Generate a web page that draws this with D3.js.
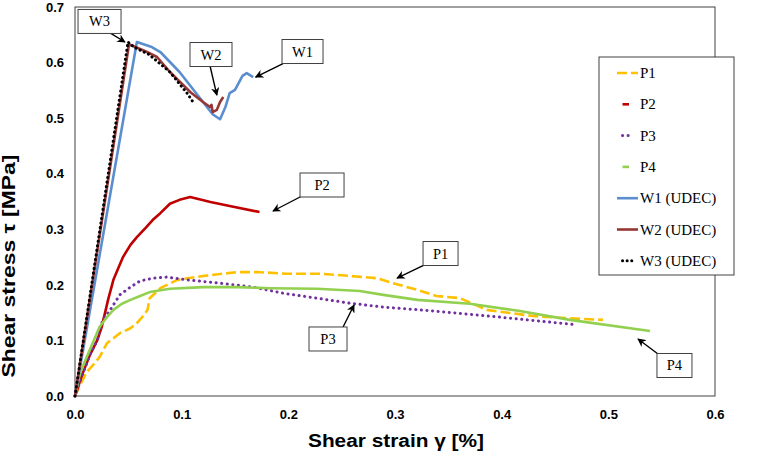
<!DOCTYPE html>
<html>
<head>
<meta charset="utf-8">
<script src="https://cdn.jsdelivr.net/npm/d3@7"></script>
<style>
  html, body { margin: 0; padding: 0; background: #fff; }
  svg { display: block; }
</style>
</head>
<body>
<svg id="chart" width="773" height="460"></svg>
<script>
// ---------- DATA ----------
const xTicks = [0.0, 0.1, 0.2, 0.3, 0.4, 0.5, 0.6];
const yTicks = [0.0, 0.1, 0.2, 0.3, 0.4, 0.5, 0.6, 0.7];
const seriesNames = ["P1", "P2", "P3", "P4", "W1 (UDEC)", "W2 (UDEC)", "W3 (UDEC)"];

// [shear strain %, shear stress MPa]
const P1 = [[0,0],[0.0047,0.020],[0.011,0.043],[0.017,0.056],[0.023,0.070],[0.030,0.095],
  [0.036,0.104],[0.042,0.113],[0.052,0.122],[0.058,0.131],[0.064,0.144],[0.068,0.155],
  [0.070,0.176],[0.080,0.194],[0.096,0.209],[0.120,0.216],[0.152,0.223],[0.171,0.223],
  [0.199,0.220],[0.230,0.220],[0.258,0.216],[0.283,0.212],[0.298,0.203],[0.321,0.191],
  [0.339,0.180],[0.361,0.176],[0.373,0.166],[0.386,0.155],[0.429,0.144],[0.461,0.140],
  [0.495,0.137]];
const P2 = [[0,0],[0.0066,0.038],[0.014,0.074],[0.021,0.101],[0.025,0.124],[0.031,0.173],
  [0.036,0.209],[0.045,0.250],[0.052,0.272],[0.058,0.286],[0.066,0.302],[0.073,0.317],
  [0.080,0.329],[0.089,0.346],[0.098,0.353],[0.108,0.358],[0.127,0.349],[0.145,0.342],
  [0.173,0.331]];
const P3 = [[0,0],[0.0075,0.041],[0.014,0.074],[0.021,0.101],[0.026,0.137],[0.033,0.155],
  [0.042,0.182],[0.052,0.196],[0.061,0.207],[0.073,0.212],[0.086,0.214],[0.105,0.209],
  [0.136,0.203],[0.167,0.196],[0.195,0.185],[0.227,0.176],[0.258,0.167],[0.289,0.160],
  [0.336,0.153],[0.398,0.142],[0.471,0.128]];
const P4 = [[0,0],[0.0047,0.041],[0.011,0.070],[0.017,0.097],[0.023,0.124],[0.030,0.142],
  [0.036,0.155],[0.044,0.166],[0.052,0.173],[0.061,0.180],[0.070,0.187],[0.089,0.193],
  [0.120,0.196],[0.152,0.196],[0.183,0.194],[0.227,0.193],[0.267,0.189],[0.289,0.182],
  [0.321,0.173],[0.370,0.166],[0.417,0.153],[0.464,0.137],[0.539,0.117]];
const W1 = [[0,0],[0.058,0.637],[0.072,0.628],[0.080,0.619],[0.098,0.583],[0.129,0.507],
  [0.136,0.498],[0.141,0.520],[0.145,0.545],[0.150,0.551],[0.157,0.576],[0.161,0.581],
  [0.167,0.574]];
const W2 = [[0,0],[0.0506,0.633],[0.0675,0.619],[0.0769,0.610],[0.089,0.583],[0.108,0.547],
  [0.120,0.529],[0.1266,0.520],[0.128,0.524],[0.129,0.511],[0.133,0.515],[0.136,0.529],
  [0.139,0.538]];
const W3 = [[0,0],[0.0497,0.637],[0.055,0.628],[0.069,0.615],[0.089,0.583],[0.105,0.545],
  [0.110,0.531]];

// ---------- STYLES / LAYOUT ----------
const styles = [
  { data: P1, color: "#FFC000", width: 2.6, dash: "10,4", cap: "butt", sw: 21 },
  { data: P2, color: "#C00000", width: 2.6, dash: null, cap: "butt", sw: 12 },
  { data: P3, color: "#7030A0", width: 3, dash: "0.1,5.5", cap: "round", sw: 16 },
  { data: P4, color: "#92D050", width: 2.6, dash: null, cap: "butt", sw: 12 },
  { data: W1, color: "#5B8ECF", width: 2.6, dash: null, cap: "butt", sw: 21 },
  { data: W2, color: "#953735", width: 2.6, dash: null, cap: "butt", sw: 21 },
  { data: W3, color: "#000000", width: 3, dash: "0.1,4.5", cap: "round", sw: 16 }
];

// annotation boxes: label, box centre (data units), arrow start & tip (data units)
const annotations = [
  { t: "W3", c: [0.0230, 0.6740], w: 43, from: [0.0328, 0.6533], to: [0.0468, 0.6370] },
  { t: "W2", c: [0.1275, 0.6145], w: 42, from: [0.1266, 0.5938], to: [0.1330, 0.5415] },
  { t: "W1", c: [0.2133, 0.6199], w: 41, from: [0.1950, 0.5983], to: [0.1693, 0.5740] },
  { t: "P2", c: [0.2316, 0.3797], w: 44, from: [0.2128, 0.3599], to: [0.1856, 0.3329] },
  { t: "P1", c: [0.3427, 0.2564], w: 35, from: [0.3272, 0.2357], to: [0.3019, 0.2123] },
  { t: "P3", c: [0.2372, 0.1026], w: 38, from: [0.2513, 0.1242], to: [0.2616, 0.1638] },
  { t: "P4", c: [0.5620, 0.0549], w: 35, from: [0.5466, 0.0756], to: [0.5278, 0.1026] }
];

const svg = d3.select("#chart");
const x = d3.scaleLinear().domain([0, 0.6]).range([75, 715]);
const y = d3.scaleLinear().domain([0, 0.7]).range([396, 7]);

// plot frame
svg.append("rect")
  .attr("x", x(0)).attr("y", y(0.7))
  .attr("width", x(0.6) - x(0)).attr("height", y(0) - y(0.7))
  .attr("fill", "none").attr("stroke", "#404040").attr("stroke-width", 1);

// axes
const fmt = d3.format(".1f");
const gx = svg.append("g").attr("transform", `translate(0,${y(0)})`)
  .call(d3.axisBottom(x).tickValues(xTicks).tickFormat(fmt).tickSize(0).tickPadding(14));
const gy = svg.append("g").attr("transform", `translate(${x(0)},0)`)
  .call(d3.axisLeft(y).tickValues(yTicks).tickFormat(fmt).tickSize(0).tickPadding(11));
[gx, gy].forEach(g => {
  g.select(".domain").remove();
  g.selectAll("text").attr("font-family", "Liberation Sans, Arial, sans-serif")
    .attr("font-weight", "bold").attr("font-size", 13).attr("fill", "#000");
});

// axis titles
svg.append("text")
  .attr("x", 396).attr("y", 447)
  .attr("text-anchor", "middle")
  .attr("font-family", "Liberation Sans, Arial, sans-serif")
  .attr("font-weight", "bold").attr("font-size", 18)
  .attr("textLength", 176).attr("lengthAdjust", "spacingAndGlyphs")
  .text("Shear strain γ [%]");
svg.append("text")
  .attr("transform", "translate(15,266) rotate(-90)")
  .attr("text-anchor", "middle")
  .attr("font-family", "Liberation Sans, Arial, sans-serif")
  .attr("font-weight", "bold").attr("font-size", 18)
  .attr("textLength", 223).attr("lengthAdjust", "spacingAndGlyphs")
  .text("Shear stress τ  [MPa]");

// series
const line = d3.line().x(d => x(d[0])).y(d => y(d[1]));
styles.forEach(s => {
  svg.append("path")
    .datum(s.data)
    .attr("d", line)
    .attr("fill", "none")
    .attr("stroke", s.color)
    .attr("stroke-width", s.width)
    .attr("stroke-linejoin", "round")
    .attr("stroke-linecap", s.cap)
    .attr("stroke-dasharray", s.dash);
});

// arrow marker
svg.append("defs").append("marker")
  .attr("id", "arr").attr("viewBox", "0 0 10 10")
  .attr("refX", 9).attr("refY", 5)
  .attr("markerWidth", 6).attr("markerHeight", 6)
  .attr("markerUnits", "strokeWidth")
  .attr("orient", "auto")
  .append("path").attr("d", "M0,0 L10,5 L0,10 L3,5 Z").attr("fill", "#000");

// annotations
annotations.forEach(a => {
  svg.append("line")
    .attr("x1", x(a.from[0])).attr("y1", y(a.from[1]))
    .attr("x2", x(a.to[0])).attr("y2", y(a.to[1]))
    .attr("stroke", "#000").attr("stroke-width", 1.4)
    .attr("marker-end", "url(#arr)");
  const cx = x(a.c[0]), cy = y(a.c[1]);
  svg.append("rect")
    .attr("x", cx - a.w / 2).attr("y", cy - 12)
    .attr("width", a.w).attr("height", 24)
    .attr("fill", "#fff").attr("stroke", "#404040").attr("stroke-width", 1);
  svg.append("text")
    .attr("x", cx).attr("y", cy + 5)
    .attr("text-anchor", "middle")
    .attr("font-family", "Liberation Serif, Times New Roman, serif")
    .attr("font-size", 14.5)
    .text(a.t);
});

// legend
const lg = svg.append("g");
lg.append("rect")
  .attr("x", 599).attr("y", 57).attr("width", 135).attr("height", 218)
  .attr("fill", "#fff").attr("stroke", "#404040").attr("stroke-width", 1);
styles.forEach((s, i) => {
  const ly = 73 + i * 31.3;
  const cxs = 627.5;
  lg.append("line")
    .attr("x1", cxs - s.sw / 2 + (s.sw < 20 ? -5 + s.sw / 2 - (s.sw === 12 ? 0 : 0) : 0))
    .attr("x2", (s.sw < 20 ? 617 + s.sw : cxs + s.sw / 2))
    .attr("y1", ly).attr("y2", ly)
    .attr("stroke", s.color)
    .attr("stroke-width", s.width)
    .attr("stroke-linecap", s.cap)
    .attr("stroke-dasharray", s.dash);
  lg.append("text")
    .attr("x", 640).attr("y", ly + 5)
    .attr("font-family", "Liberation Serif, Times New Roman, serif")
    .attr("font-size", 15)
    .text(seriesNames[i]);
});
</script>
</body>
</html>
